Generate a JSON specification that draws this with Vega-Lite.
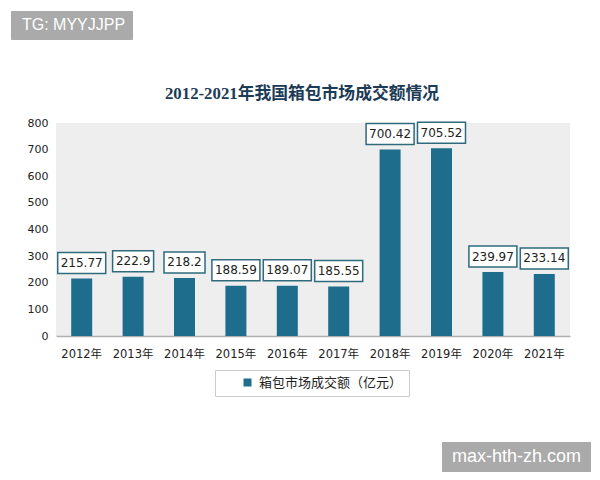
{
  "$schema": "https://vega.github.io/schema/vega-lite/v6.json",
  "padding": {"left": 10, "top": 10, "right": 10, "bottom": 5},
  "background": "white",
  "columns": 1,
  "align": "none",
  "spacing": 45,
  "resolve": {"scale": {"color": "independent"}, "legend": {"color": "independent"}},
  "config": {"view": {"stroke": null}},
  "concat": [
    {
      "width": 1,
      "height": 30,
      "data": {"values": [{"t": "TG: MYYJJPP"}]},
      "mark": {"type": "text", "opacity": 0},
      "encoding": {
        "text": {"field": "t", "type": "nominal"},
        "color": {
          "field": "t",
          "type": "nominal",
          "scale": {"range": ["#aaaaaa"]},
          "legend": {
            "orient": "none",
            "legendX": -45,
            "legendY": 0,
            "title": null,
            "fillColor": "#aaaaaa",
            "strokeColor": "#aaaaaa",
            "padding": 6,
            "symbolSize": 0,
            "symbolOpacity": 0,
            "symbolOffset": 1,
            "labelOffset": -12,
            "labelColor": "white",
            "labelFont": "Liberation Sans",
            "labelFontSize": 16
          }
        }
      }
    },
    {
      "width": 514,
      "height": 213,
      "view": {"fill": "#eeeeee", "stroke": null},
      "title": {
        "text": "2012-2021年我国箱包市场成交额情况",
        "font": "Liberation Serif, Noto Sans CJK SC",
        "fontSize": 16.8,
        "fontWeight": "bold",
        "color": "#1c3b57",
        "anchor": "middle",
        "dx": -11,
        "offset": 14
      },
      "data": {
        "values": [
          {"year": "2012年", "value": 215.77, "series": "箱包市场成交额（亿元）"},
          {"year": "2013年", "value": 222.9, "series": "箱包市场成交额（亿元）"},
          {"year": "2014年", "value": 218.2, "series": "箱包市场成交额（亿元）"},
          {"year": "2015年", "value": 188.59, "series": "箱包市场成交额（亿元）"},
          {"year": "2016年", "value": 189.07, "series": "箱包市场成交额（亿元）"},
          {"year": "2017年", "value": 185.55, "series": "箱包市场成交额（亿元）"},
          {"year": "2018年", "value": 700.42, "series": "箱包市场成交额（亿元）"},
          {"year": "2019年", "value": 705.52, "series": "箱包市场成交额（亿元）"},
          {"year": "2020年", "value": 239.97, "series": "箱包市场成交额（亿元）"},
          {"year": "2021年", "value": 233.14, "series": "箱包市场成交额（亿元）"}
        ]
      },
      "encoding": {
        "x": {
          "field": "year",
          "type": "ordinal",
          "sort": null,
          "scale": {"paddingInner": 0.59, "paddingOuter": 0.295},
          "axis": {
            "title": null,
            "labelAngle": 0,
            "ticks": false,
            "domain": true,
            "domainColor": "#b0b0b0",
            "domainWidth": 1.5,
            "labelPadding": 12,
            "labelFont": "DejaVu Sans, Noto Sans CJK SC",
            "labelFontSize": 11.5,
            "labelColor": "#222222"
          }
        },
        "y": {
          "field": "value",
          "type": "quantitative",
          "scale": {"domain": [0, 800]},
          "axis": {
            "title": null,
            "values": [0, 100, 200, 300, 400, 500, 600, 700, 800],
            "grid": false,
            "ticks": false,
            "domain": false,
            "labelPadding": 8,
            "minExtent": 45,
            "labelFont": "DejaVu Sans",
            "labelFontSize": 11,
            "labelColor": "#222222"
          }
        }
      },
      "layer": [
        {
          "mark": {"type": "bar", "width": 21},
          "encoding": {
            "color": {
              "field": "series",
              "type": "nominal",
              "scale": {"range": ["#1e6d8d"]},
              "legend": {
                "orient": "none",
                "legendX": 159,
                "legendY": 247,
                "direction": "horizontal",
                "title": null,
                "symbolType": "square",
                "symbolSize": 64,
                "symbolStrokeWidth": 0,
                "symbolOffset": 20,
                "labelOffset": 5,
                "labelFont": "Noto Sans CJK SC",
                "labelFontSize": 13,
                "labelColor": "#222222",
                "strokeColor": "#cccccc",
                "fillColor": "white",
                "padding": 6
              }
            }
          }
        },
        {
          "transform": [{"filter": "length(toString(datum.value)) > 5"}],
          "mark": {"type": "bar", "width": 48, "fill": "white", "stroke": "#2e6b7c", "strokeWidth": 1.5, "yOffset": -26, "y2Offset": -5},
          "encoding": {"y2": {"field": "value"}}
        },
        {
          "transform": [{"filter": "length(toString(datum.value)) <= 5"}],
          "mark": {"type": "bar", "width": 41, "fill": "white", "stroke": "#2e6b7c", "strokeWidth": 1.5, "yOffset": -26, "y2Offset": -5},
          "encoding": {"y2": {"field": "value"}}
        },
        {
          "mark": {"type": "text", "font": "DejaVu Sans", "fontSize": 12, "color": "#222222", "baseline": "middle", "dy": -15.5},
          "encoding": {"text": {"field": "value", "type": "quantitative"}}
        }
      ]
    },
    {
      "spacing": 10,
      "hconcat": [
        {
          "width": 376,
          "height": 30,
          "data": {"values": []},
          "mark": "point"
        },
        {
          "width": 149,
          "height": 30,
          "view": {"fill": "#aaaaaa", "stroke": null},
          "data": {"values": [{"t": "max-hth-zh.com"}]},
          "mark": {"type": "text", "color": "white", "fontSize": 18, "font": "Liberation Sans"},
          "encoding": {"text": {"field": "t", "type": "nominal"}}
        }
      ]
    }
  ]
}
